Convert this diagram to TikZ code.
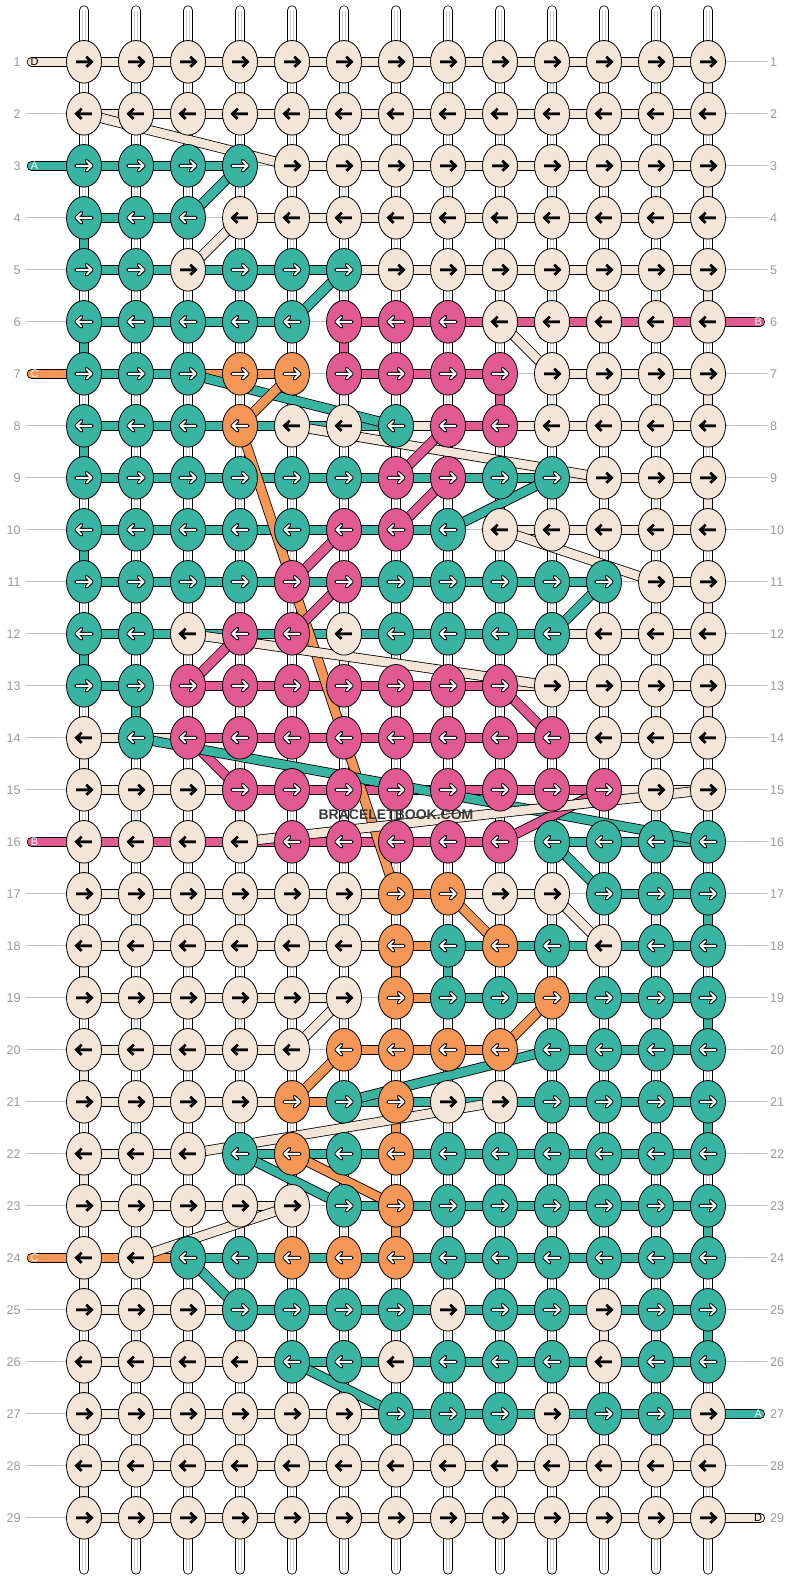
\documentclass[tikz,border=0pt]{standalone}
\usepackage{fontspec}
\setmainfont{Liberation Sans}
\usetikzlibrary{shapes.geometric, backgrounds}

\definecolor{kc}{HTML}{F3E6D9}
\definecolor{kt}{HTML}{39B4A3}
\definecolor{kp}{HTML}{E15A91}
\definecolor{ko}{HTML}{F49656}
\definecolor{labgray}{HTML}{9A9A9A}
\definecolor{linegray}{HTML}{BDBDBD}

\tikzstyle{knot} = [ellipse, minimum width=35pt, minimum height=42.6pt, inner sep=0pt, draw=black, line width=0.8pt]
\tikzstyle{bandc} = [draw=black, line width=0.8pt, double=kc, double distance=8.6pt]
\tikzstyle{bandt} = [draw=black, line width=0.8pt, double=kt, double distance=8.6pt]
\tikzstyle{bandp} = [draw=black, line width=0.8pt, double=kp, double distance=8.6pt]
\tikzstyle{bando} = [draw=black, line width=0.8pt, double=ko, double distance=8.6pt]
\tikzstyle{bandg} = [draw=linegray, line width=0.8pt]
\tikzstyle{strand} = [draw=black, line width=0.8pt, double=white, double distance=8.6pt, line cap=round]
\tikzstyle{strandcore} = [draw=gray!40, line width=0.6pt, double=white, double distance=2.4pt]
\tikzstyle{outerc} = [draw=black, line width=2.5pt]
\tikzstyle{innerc} = [draw=black, line width=2.5pt]
\tikzstyle{outert} = [draw=black, line width=3.8pt, line join=round, line cap=round]
\tikzstyle{innert} = [draw=white, line width=1.9pt, line join=round]
\tikzstyle{outerp} = [outert]
\tikzstyle{innerp} = [innert]
\tikzstyle{outero} = [outert]
\tikzstyle{innero} = [innert]
\tikzstyle{rowlab} = [text=labgray, font=\fontsize{12.6}{12.6}\selectfont, inner sep=0pt]
\tikzstyle{threadlab} = [font=\fontsize{11}{11}\selectfont, inner sep=0pt]
\tikzstyle{labline} = [draw=linegray, line width=0.8pt]

\begin{document}
\begin{tikzpicture}[x=1pt, y=-1pt]
\useasboundingbox (0,0) rectangle (792,1580);

% Knots with their arrows
\foreach \krow [count=\r] in {%
  {c,c,c,c,c,c,c,c,c,c,c,c,c},%
  {c,c,c,c,c,c,c,c,c,c,c,c,c},%
  {t,t,t,t,c,c,c,c,c,c,c,c,c},%
  {t,t,t,c,c,c,c,c,c,c,c,c,c},%
  {t,t,c,t,t,t,c,c,c,c,c,c,c},%
  {t,t,t,t,t,p,p,p,c,c,c,c,c},%
  {t,t,t,o,o,p,p,p,p,c,c,c,c},%
  {t,t,t,o,c,c,t,p,p,c,c,c,c},%
  {t,t,t,t,t,t,p,p,t,t,c,c,c},%
  {t,t,t,t,t,p,p,t,c,c,c,c,c},%
  {t,t,t,t,p,p,t,t,t,t,t,c,c},%
  {t,t,c,p,p,c,t,t,t,t,c,c,c},%
  {t,t,p,p,p,p,p,p,p,c,c,c,c},%
  {c,t,p,p,p,p,p,p,p,p,c,c,c},%
  {c,c,c,p,p,p,p,p,p,p,p,c,c},%
  {c,c,c,c,p,p,p,p,p,t,t,t,t},%
  {c,c,c,c,c,c,o,o,c,c,t,t,t},%
  {c,c,c,c,c,c,o,t,o,t,c,t,t},%
  {c,c,c,c,c,c,o,t,t,o,t,t,t},%
  {c,c,c,c,c,o,o,o,o,t,t,t,t},%
  {c,c,c,c,o,t,o,c,c,t,t,t,t},%
  {c,c,c,t,o,t,o,t,t,t,t,t,t},%
  {c,c,c,c,c,t,o,t,t,t,t,t,t},%
  {c,c,t,t,o,o,o,t,t,t,t,t,t},%
  {c,c,c,t,t,t,t,c,t,t,c,t,t},%
  {c,c,c,c,t,t,c,t,t,t,c,t,t},%
  {c,c,c,c,c,c,t,t,t,c,t,t,c},%
  {c,c,c,c,c,c,c,c,c,c,c,c,c},%
  {c,c,c,c,c,c,c,c,c,c,c,c,c}%
}{
  \foreach \k [count=\c] in \krow {
    \pgfmathsetmacro\kx{84+52*(\c-1)}
    \pgfmathsetmacro\ky{61.8+52*(\r-1)}
    \pgfmathsetmacro\dir{1-2*mod(\r+1,2)}
    \node (k-\r-\c) [knot, fill=k\k] at (\kx,\ky) {};
    \begin{scope}[shift={(\kx,\ky)}, xscale=\dir]
      \draw [outer\k] (-7.8,0) -- (7.4,0) (2.4,-5) -- (7.6,0) -- (2.4,5);
      \draw [inner\k] (-7.8,0) -- (7.4,0) (2.4,-5) -- (7.6,0) -- (2.4,5);
    \end{scope}
  }
}

% Row numbers
\foreach \r in {1,...,29} {
  \pgfmathsetmacro\ky{61.8+52*(\r-1)}
  \node (ll-\r) [rowlab, anchor=east] at (20.8,\ky) {\r};
  \node (lr-\r) [rowlab, anchor=west] at (770,\ky) {\r};
}

% Thread ends
\foreach \r/\lt/\lc in {1/D/black, 3/A/white, 7/C/white, 16/B/white, 24/C/white} {
  \pgfmathsetmacro\ky{61.8+52*(\r-1)}
  \coordinate (sl-\r) at (31.8,\ky);
  \node (tl-\r) [threadlab, text=\lc] at (34.6,\ky) {\lt};
}
\foreach \r/\lt/\lc in {6/B/white, 27/A/white, 29/D/black} {
  \pgfmathsetmacro\ky{61.8+52*(\r-1)}
  \coordinate (sr-\r) at (760,\ky);
  \node (tr-\r) [threadlab, text=\lc] at (758.2,\ky) {\lt};
}

% Watermark
\node (watermark) [font=\bfseries\fontsize{14}{14}\selectfont, text=black!78] at (396,815) {BRACELETBOOK.COM};

\begin{pgfonlayer}{background}
% Base strands
\foreach \c in {1,...,13} {
  \coordinate (st-\c) at ({84+52*(\c-1)},10.5);
  \coordinate (sb-\c) at ({84+52*(\c-1)},1569.5);
  \draw [strand] (st-\c) -- (sb-\c);
  \draw [strandcore] (st-\c) -- (sb-\c);
}

% Row connectors
\foreach \hrow [count=\r] in {%
  {c,c,c,c,c,c,c,c,c,c,c,c},%
  {c,c,c,c,c,c,c,c,c,c,c,c},%
  {t,t,t,g,c,c,c,c,c,c,c,c},%
  {t,t,g,c,c,c,c,c,c,c,c,c},%
  {t,t,t,t,t,c,c,c,c,c,c,c},%
  {t,t,t,t,g,p,p,p,p,p,p,p},%
  {t,t,o,o,g,p,p,p,g,c,c,c},%
  {t,t,t,t,t,t,c,p,c,c,c,c},%
  {t,t,t,t,t,t,t,t,t,c,c,c},%
  {t,t,t,t,t,t,t,g,c,c,c,c},%
  {t,t,t,t,t,t,t,t,t,t,g,c},%
  {t,t,t,t,t,t,t,t,t,c,c,c},%
  {t,g,p,p,p,p,p,p,c,c,c,c},%
  {c,c,p,p,p,p,p,p,p,c,c,c},%
  {c,c,c,p,p,p,p,p,p,p,c,c},%
  {p,p,p,p,p,p,p,p,g,t,t,t},%
  {c,c,c,c,c,c,o,c,c,g,t,t},%
  {c,c,c,c,c,c,o,t,t,t,t,t},%
  {c,c,c,c,c,g,o,t,t,t,t,t},%
  {c,c,c,c,g,o,o,o,g,t,t,t},%
  {c,c,c,c,o,t,t,t,t,t,t,t},%
  {c,c,g,t,t,t,t,t,t,t,t,t},%
  {c,c,c,c,g,t,t,t,t,t,t,t},%
  {o,o,t,t,t,t,t,t,t,t,t,t},%
  {c,c,c,t,t,t,t,t,t,t,t,t},%
  {c,c,c,c,t,t,t,t,t,t,t,t},%
  {c,c,c,c,c,c,t,t,t,t,t,t},%
  {c,c,c,c,c,c,c,c,c,c,c,c},%
  {c,c,c,c,c,c,c,c,c,c,c,c}%
}{
  \foreach \hc [count=\j] in \hrow {
    \pgfmathtruncatemacro\jn{\j+1}
    \draw [band\hc] (k-\r-\j.center) -- (k-\r-\jn.center);
  }
}

% Threads going down a row
\foreach \col/\ra/\ca in {t/4/1, t/6/1, t/8/1, t/10/1, t/12/1, t/13/2,
    c/1/13, c/3/13, c/5/13, c/7/13, c/9/13, c/11/13, c/13/13,
    c/14/1, c/16/1, c/18/1, c/20/1, c/22/1, c/24/1, c/26/1, c/28/1,
    c/25/11, c/27/13,
    t/17/13, t/19/13, t/21/13, t/23/13, t/25/13, t/18/8,
    p/6/6, p/7/9, o/18/7, o/21/7, o/23/7} {
  \pgfmathtruncatemacro\rb{\ra+1}
  \draw [band\col] (k-\ra-\ca.center) -- (k-\rb-\ca.center);
}

% Threads crossing between rows
\foreach \col/\ra/\ca/\rb/\cb in {c/2/1/3/5, t/3/4/4/3, c/4/4/5/3, t/5/6/6/5,
    c/6/9/7/10, t/7/3/8/7, o/7/5/8/4, c/8/5/9/11, o/8/4/17/7,
    p/8/8/9/7, p/9/8/10/7, p/10/6/11/5, p/11/6/12/5, p/12/4/13/3,
    t/9/10/10/8, c/10/9/11/12, t/11/11/12/10, c/12/3/13/10,
    p/13/9/14/10, p/14/3/15/4, t/14/2/16/13, p/15/11/16/9, c/16/4/15/13,
    t/16/10/17/11, o/17/8/18/9, c/17/10/18/11, c/19/6/20/5, o/19/10/20/9,
    t/20/10/21/6, o/20/6/21/5, c/21/9/22/3, t/22/4/23/6, o/22/5/23/7,
    c/23/5/24/2, t/24/3/25/4, t/26/5/27/7} {
  \draw [band\col] (k-\ra-\ca.center) -- (k-\rb-\cb.center);
}

% Label lines and thread ends
\foreach \r in {2,4,5,6,8,9,10,11,12,13,14,15,17,18,19,20,21,22,23,25,26,27,28,29}
  \draw [labline, shorten <=5pt] (ll-\r.east) -- (k-\r-1.west);
\foreach \r in {1,2,3,4,5,7,8,9,10,11,12,13,14,15,16,17,18,19,20,21,22,23,24,25,26,28}
  \draw [labline, shorten >=3pt] (k-\r-13.east) -- (lr-\r.west);
\foreach \r/\col in {1/c, 3/t, 7/o, 16/p, 24/o}
  \draw [band\col, line cap=round] (sl-\r) -- (k-\r-1.center);
\foreach \r/\col in {6/p, 27/t, 29/c}
  \draw [band\col, line cap=round] (k-\r-13.center) -- (sr-\r);
\end{pgfonlayer}

\end{tikzpicture}
\end{document}
